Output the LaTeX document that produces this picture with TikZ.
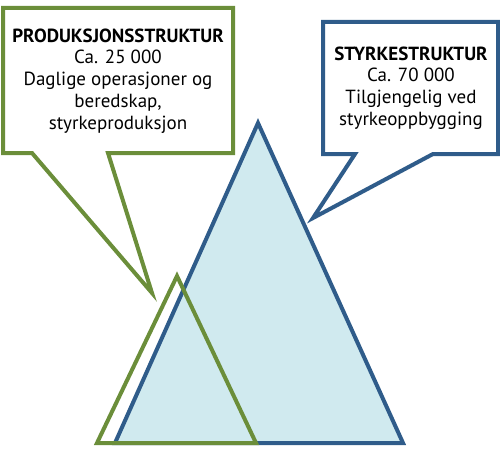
\documentclass[tikz,border=0pt]{standalone}
\usepackage{fontspec}
\setmainfont{PT Sans}
\definecolor{gruen}{RGB}{107,142,58}
\definecolor{blaa}{RGB}{47,92,138}
\definecolor{isblaa}{RGB}{208,234,239}

\begin{document}
\begin{tikzpicture}[x=1pt,y=-1pt,
    gline/.style={draw=gruen,line width=4pt},
    bline/.style={draw=blaa,line width=4pt},
    tekst/.style={align=center,inner sep=0pt,font=\fontsize{19}{21.8}\selectfont}]
    \useasboundingbox (0,0) rectangle (500,452);

    % store trekant
    \filldraw[bline,fill=isblaa] (115,443) -- (258,123) -- (403,443) -- cycle;
    % liten trekant
    \draw[gline] (97,443) -- (177,276) -- (256,443) -- cycle;

    % bobler
    \draw[gline,fill=white]
        (3,8) -- (233,8) -- (233,153) -- (108,153)
     -- (152,293) -- (32,153) -- (3,153) -- cycle;
    \draw[bline,fill=white]
        (323,22) -- (498,22) -- (498,154) -- (433,154)
     -- (313,218) -- (355,154) -- (323,154) -- cycle;

    \node[tekst] (Prod) at (118,81)
        {\textbf{PRODUKSJONSSTRUKTUR}\\Ca. 25 000\\Daglige operasjoner og\\beredskap,\\styrkeproduksjon};
    \node[tekst] (Styrke) at (411,88)
        {\textbf{STYRKESTRUKTUR}\\Ca. 70 000\\Tilgjengelig ved\\styrkeoppbygging};
\end{tikzpicture}
\end{document}
